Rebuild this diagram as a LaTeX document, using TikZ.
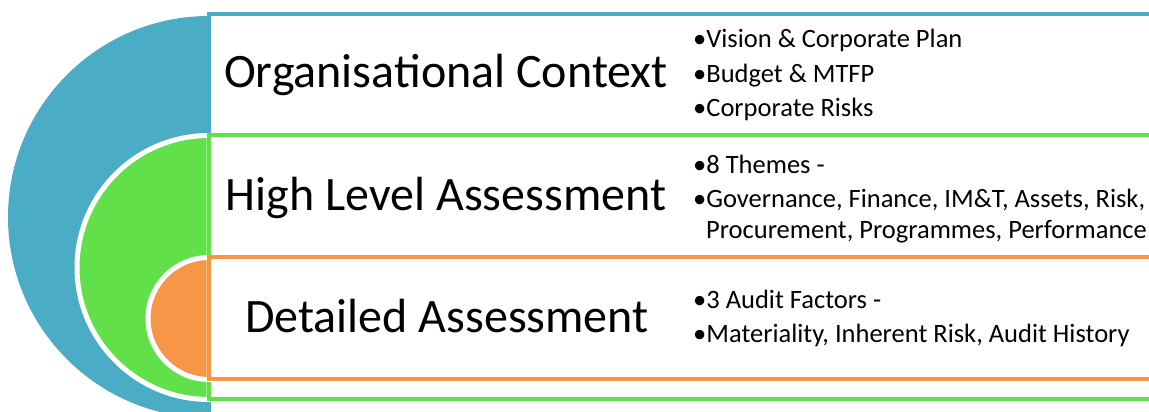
\documentclass[tikz,border=0pt]{standalone}
\usepackage{fontspec}
\setmainfont{Carlito}
\definecolor{teal1}{HTML}{4BACC6}
\definecolor{green1}{HTML}{62E04A}
\definecolor{orange1}{HTML}{F79646}
\tikzset{
  big/.style={font=\fontsize{48}{56}\selectfont, anchor=base, inner sep=0pt},
  small/.style={font=\fontsize{26.5}{30}\selectfont, anchor=base west, inner sep=0pt},
  band/.style={fill=white, line width=4pt},
  halfdisc/.style={draw=white, line width=5pt},
}
\begin{document}
\begin{tikzpicture}[x=1pt,y=-1pt]
\useasboundingbox (0,0) rectangle (1149,412);
\clip (0,0) rectangle (1149,412);
% teal layer
\fill[teal1] (209,16) arc[start angle=270, end angle=90, radius=201] -- cycle;
\draw[band, draw=teal1] (209,14) rectangle (1170,440);
% green layer
\filldraw[halfdisc, fill=green1] (209,135.5) arc[start angle=270, end angle=90, radius=132] -- cycle;
\draw[band, draw=green1] (209,135) rectangle (1170,399);
% orange layer
\filldraw[halfdisc, fill=orange1] (209,257.5) arc[start angle=270, end angle=90, radius=61] -- cycle;
\draw[band, draw=orange1] (209,257) rectangle (1170,379);
% headings
\node[big] (oc) at (446,88) {Organisational Context};
\node[big] (hl) at (446,210) {High Level Assessment};
\node[big] (da) at (447,332) {Detailed Assessment};
% bullets
\node[small] (b1) at (693,48) {•Vision \& Corporate Plan};
\node[small] (b2) at (693,83) {•Budget \& MTFP};
\node[small] (b3) at (693,117) {•Corporate Risks};
\node[small] (b4) at (693,173) {•8 Themes -};
\node[small] (b5) at (693,207) {•Governance, Finance, IM\&T, Assets, Risk,};
\node[small] (b6) at (706,238) {Procurement, Programmes, Performance};
\node[small] (b7) at (693,308) {•3 Audit Factors -};
\node[small] (b8) at (693,342) {•Materiality, Inherent Risk, Audit History};
\end{tikzpicture}
\end{document}
